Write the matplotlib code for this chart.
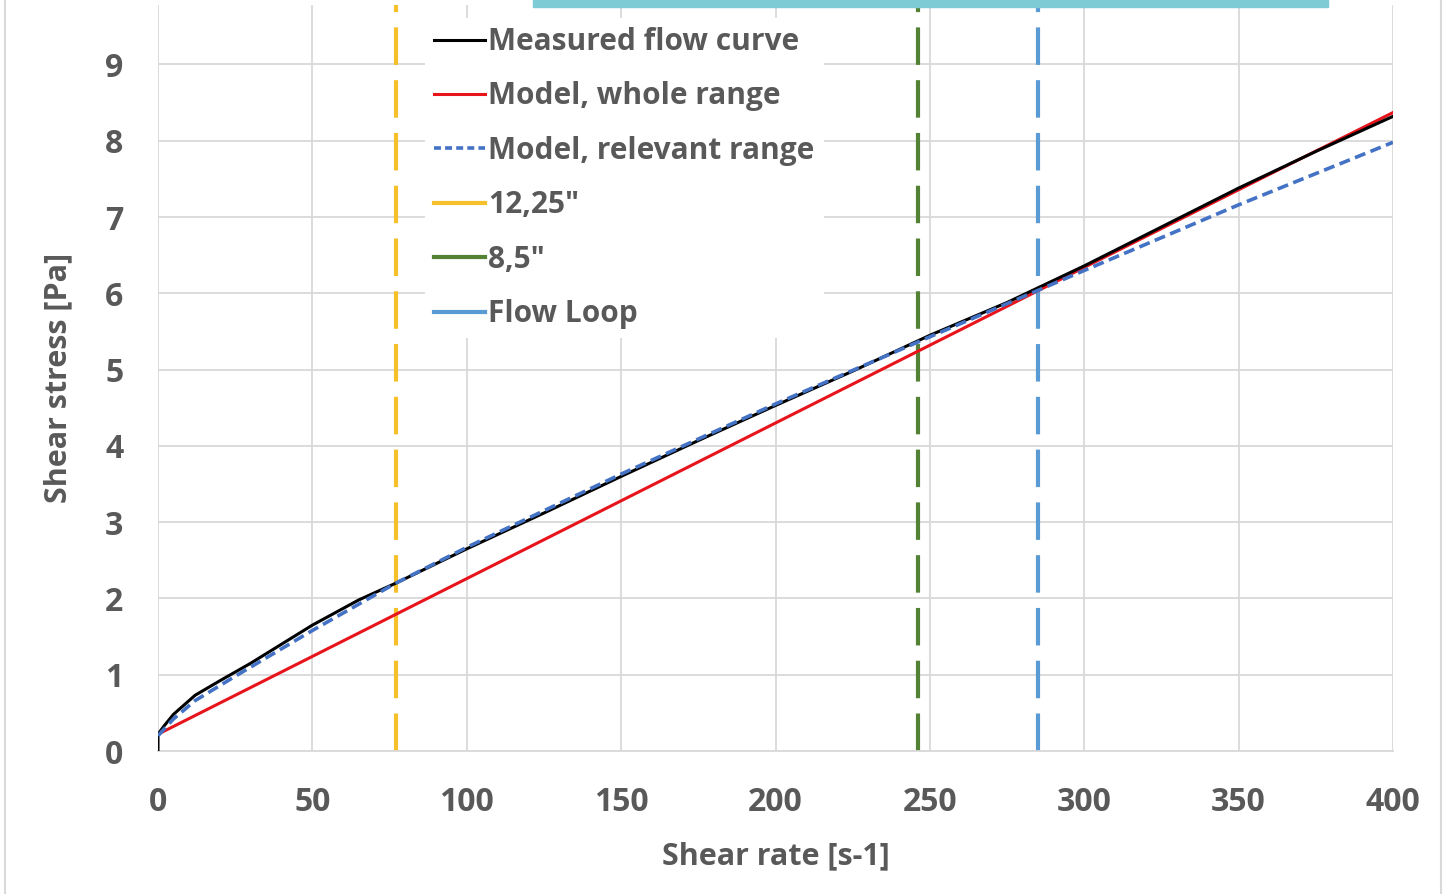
import matplotlib
matplotlib.use("Agg")
import matplotlib.pyplot as plt
from matplotlib.lines import Line2D
from matplotlib.patches import Rectangle

# shear rate [1/s] and shear stress [Pa]
measured_rate = [0, 0, 2, 5, 12, 20, 30, 50, 65, 77, 100, 125, 150, 175, 200,
                 225, 250, 275, 300, 325, 350, 375, 400]
measured_stress = [0, 0.22, 0.33, 0.48, 0.73, 0.92, 1.15, 1.65, 1.98, 2.2, 2.65,
                   3.12, 3.6, 4.07, 4.53, 4.98, 5.45, 5.88, 6.36, 6.87, 7.38,
                   7.86, 8.32]

whole_rate = [0, 50, 100, 150, 200, 250, 300, 357, 400]
whole_stress = [0.22, 1.24, 2.26, 3.28, 4.3, 5.32, 6.34, 7.5, 8.37]

relevant_rate = [0, 5, 12, 25, 50, 77, 100, 150, 200, 250, 300, 350, 400]
relevant_stress = [0.2, 0.42, 0.66, 0.98, 1.58, 2.2, 2.67, 3.63, 4.55, 5.43,
                   6.3, 7.16, 7.98]

# characteristic shear rates
marker_labels = ['12,25"', '8,5"', 'Flow Loop']
marker_rates = [77, 246, 285]
marker_colors = ['#f5c02a', '#548235', '#5b9bd5']

txt = '#595959'
plt.rcParams['font.family'] = ['Open Sans', 'DejaVu Sans']
plt.rcParams['font.weight'] = 'bold'
plt.rcParams['lines.scale_dashes'] = False

fig = plt.figure(figsize=(14.49, 8.94), dpi=100)
ax = fig.add_axes([158 / 1449, 1 - 751 / 894, (1393 - 158) / 1449, (751 - 5) / 894])

for x, c in zip(marker_rates, marker_colors):
    ax.axvline(x, color=c, lw=3, linestyle=(0, (27, 11)), zorder=2)

ax.plot(whole_rate, whole_stress, color='#e8141c', lw=2.2, zorder=3)
ax.plot(measured_rate, measured_stress, color='black', lw=2.2, zorder=4)
ax.plot(relevant_rate, relevant_stress, color='#4472c4', lw=2.6,
        linestyle=(0, (8, 4)), zorder=5)

ax.set_xlim(0, 400)
ax.set_ylim(0, 9.78)
ax.set_xticks(range(0, 401, 50))
ax.set_yticks(range(0, 10))
ax.grid(True, color='#d9d9d9', lw=1.3)
ax.set_axisbelow(True)
for s in ['top', 'right', 'left']:
    ax.spines[s].set_visible(False)
ax.spines['bottom'].set_color('#d9d9d9')
ax.spines['bottom'].set_linewidth(1.3)
ax.tick_params(length=0, labelsize=23, labelcolor=txt)
ax.tick_params(axis='y', pad=25)
ax.tick_params(axis='x', pad=25)

ax.set_xlabel('Shear rate [s-1]', fontsize=22, fontweight='bold', color=txt,
              labelpad=16)
ax.set_ylabel('Shear stress [Pa]', fontsize=22, fontweight='bold', color=txt,
              labelpad=23)

handles = [
    Line2D([], [], color='black', lw=2.2),
    Line2D([], [], color='#e8141c', lw=2.2),
    Line2D([], [], color='#4472c4', lw=2.6, linestyle=(0, (5, 3))),
]
labels = ['Measured flow curve', 'Model, whole range', 'Model, relevant range']
for lab, c in zip(marker_labels, marker_colors):
    handles.append(Line2D([], [], color=c, lw=3))
    labels.append(lab)

leg = ax.legend(handles, labels, loc='upper left',
                bbox_to_anchor=((425 - 158) / 1235, 1 - 13 / 746),
                fontsize=21.5, labelcolor=txt, frameon=True, fancybox=False,
                facecolor='white', edgecolor='none', framealpha=1,
                handlelength=1.7, handletextpad=0.12, labelspacing=0.82,
                borderpad=0.3, borderaxespad=0)
leg.set_zorder(6)

# chart frame and the coloured strip at the top of the screenshot
fig.add_artist(Line2D([5 / 1449, 5 / 1449], [0, 1], color='#d9d9d9', lw=1.5))
fig.add_artist(Line2D([1441 / 1449, 1441 / 1449], [0, 1], color='#d9d9d9', lw=1.5))
fig.add_artist(Rectangle((533 / 1449, 1 - 7 / 894), (1328 - 533) / 1449, 7 / 894,
                         color='#7ecbd6', transform=fig.transFigure))

fig.savefig('out.png', dpi=100)
